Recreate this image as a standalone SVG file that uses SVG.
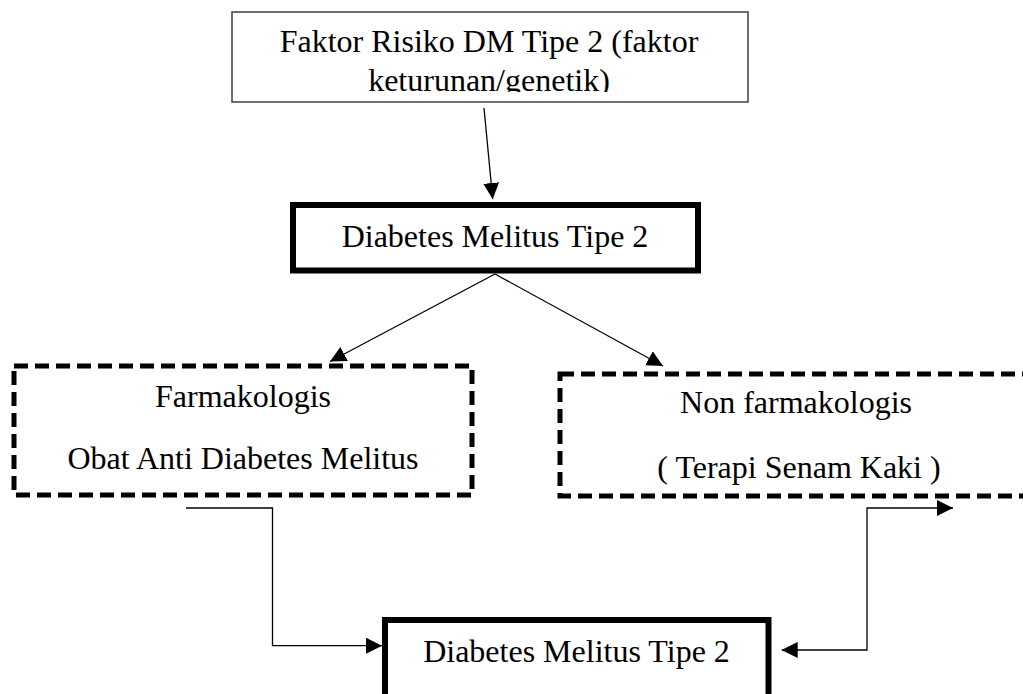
<svg xmlns="http://www.w3.org/2000/svg" width="1023" height="694" viewBox="0 0 1023 694">
<style>
text{font-family:"Liberation Serif","Times New Roman",serif;font-size:32px;fill:#000;text-anchor:middle}
.thin{fill:#fff;stroke:#404040;stroke-width:1.5}
.thick{fill:#fff;stroke:#000;stroke-width:6}
.dash{fill:#fff;stroke:#000;stroke-width:5;stroke-dasharray:14 7}
.conn{fill:none;stroke:#000;stroke-width:1.3}
</style>
<defs>
<marker id="arr" markerUnits="userSpaceOnUse" markerWidth="16" markerHeight="16" viewBox="0 0 16 16" refX="16" refY="8" orient="auto">
<path d="M0,0 L16,8 L0,16 Z" fill="#000"/>
</marker>
<marker id="arrS" markerUnits="userSpaceOnUse" markerWidth="16" markerHeight="16" viewBox="0 0 16 16" refX="0" refY="8" orient="auto">
<path d="M16,0 L0,8 L16,16 Z" fill="#000"/>
</marker>
<clipPath id="clipTop"><rect x="232" y="12" width="516" height="80"/></clipPath>
</defs>
<g id="node-risk">
<rect class="thin" x="232" y="12" width="516" height="90"/>
<g clip-path="url(#clipTop)">
<text x="489" y="52">Faktor Risiko DM Tipe 2 (faktor</text>
<text x="489" y="90.5">keturunan/genetik)</text>
</g>
</g>
<g id="node-dm1">
<rect class="thick" x="293" y="205" width="405" height="65.5"/>
<text x="495" y="247">Diabetes Melitus Tipe 2</text>
</g>
<g id="node-farma">
<rect class="dash" x="14" y="366" width="458" height="129"/>
<text x="243" y="407">Farmakologis</text>
<text x="243" y="469">Obat Anti Diabetes Melitus</text>
</g>
<g id="node-nonfarma">
<rect class="dash" x="560" y="374" width="480" height="122"/>
<text x="796" y="413">Non farmakologis</text>
<text x="799" y="478">( Terapi Senam Kaki )</text>
</g>
<g id="node-dm2">
<rect class="thick" x="385" y="620" width="383.5" height="110"/>
<text x="576.5" y="662">Diabetes Melitus Tipe 2</text>
</g>
<g id="connectors">
<line class="conn" x1="484" y1="108" x2="492.7" y2="199" marker-end="url(#arr)"/>
<line class="conn" x1="495" y1="274" x2="330" y2="361.5" marker-end="url(#arr)"/>
<line class="conn" x1="495" y1="274" x2="663" y2="366" marker-end="url(#arr)"/>
<polyline class="conn" points="186,508 272.5,508 272.5,645.7 382,645.7" marker-end="url(#arr)"/>
<polyline class="conn" points="781.7,650 867,650 867,508 953,508" marker-start="url(#arrS)" marker-end="url(#arr)"/>
</g>
</svg>
